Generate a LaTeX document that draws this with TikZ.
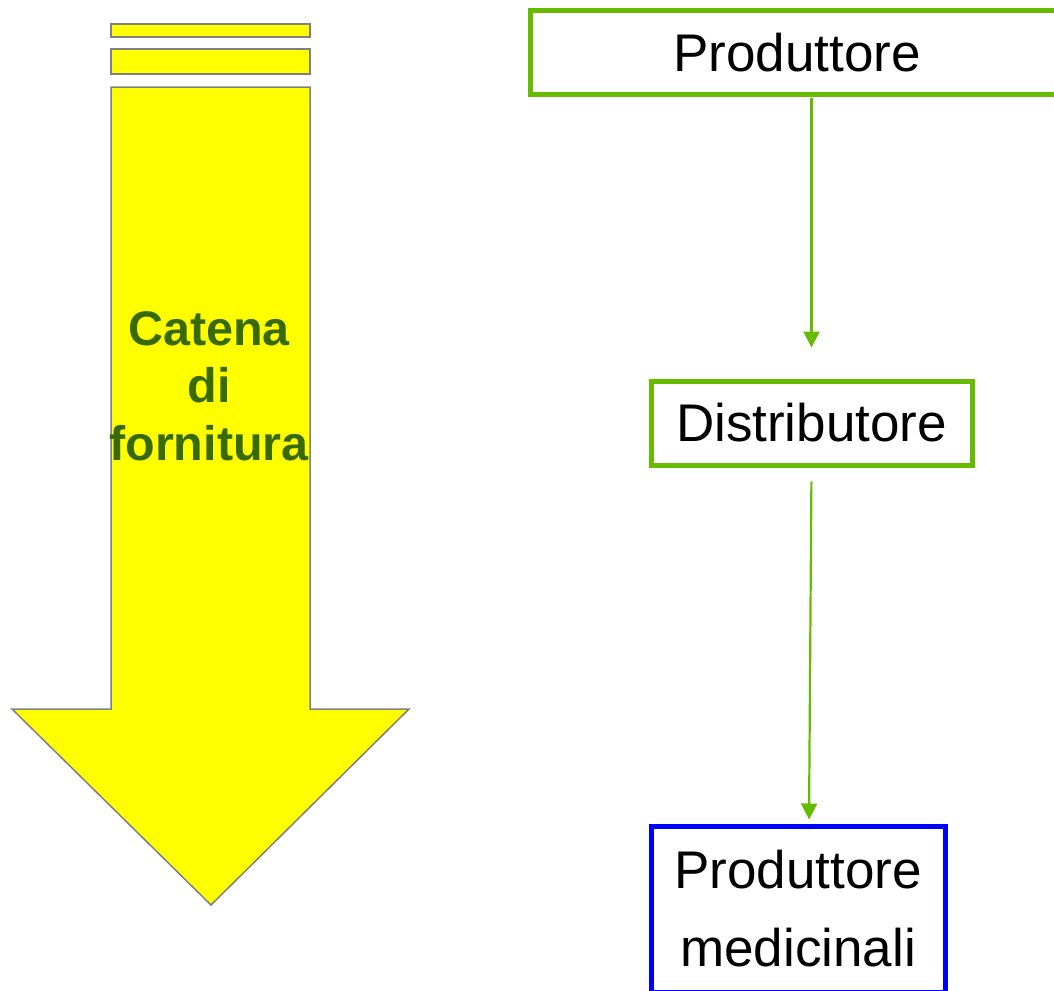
\documentclass[tikz,border=0pt]{standalone}
\usepackage{fontspec}
\setmainfont{Liberation Sans}
\usetikzlibrary{arrows.meta,calc}
\definecolor{boxgreen}{RGB}{102,187,0}
\definecolor{txtgreen}{RGB}{56,106,0}
\definecolor{arrowgray}{RGB}{128,128,128}
\definecolor{pureyellow}{RGB}{255,255,0}
\definecolor{pureblue}{RGB}{0,0,255}
\tikzset{
  flowbox/.style={draw=boxgreen, line width=5pt, fill=white, inner sep=0pt, font=\fontsize{53}{78}\selectfont, align=center},
  bluebox/.style={flowbox, draw=pureblue},
  flowarrow/.style={draw=boxgreen, line width=2.2pt, -{Triangle[width=16pt,length=16pt]}},
  bigarrow/.style={fill=pureyellow, draw=arrowgray, line width=1.5pt, line join=miter}
}
\begin{document}
\begin{tikzpicture}[x=1pt,y=-1pt]
\useasboundingbox (0,0) rectangle (1054,990);
% big yellow arrow
\path[bigarrow] (111,24) rectangle (310,37);
\path[bigarrow] (111,49) rectangle (310,74);
\path[bigarrow] (111,87) -- (310,87) -- (310,709) -- (409,709) -- (211,905) -- (12,709) -- (111,709) -- cycle;
\node[font=\bfseries\fontsize{48.5}{57.5}\selectfont, text=txtgreen, align=center] (catena) at (209,386) {Catena\\di\\fornitura};
% flow boxes
\node[flowbox, minimum width=534pt, minimum height=84pt] (prod) at (797,52.5) {Produttore};
\node[flowbox, minimum width=321pt, minimum height=84pt] (dist) at (811.5,423) {Distributore};
\node[bluebox, minimum width=294pt, minimum height=166pt] (med) at (798,909) {Produttore\\medicinali};
\coordinate (medin) at ($(med.north)+(11,0)$);
\draw[flowarrow, shorten <=1pt, shorten >=31pt] (dist.north |- prod.south) -- (dist.north);
\draw[flowarrow, shorten <=14pt, shorten >=4pt] (dist.south) -- (medin);
\end{tikzpicture}
\end{document}
